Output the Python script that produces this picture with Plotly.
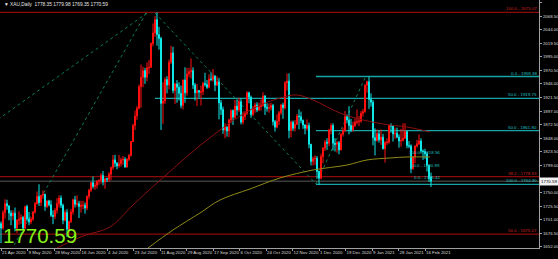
import plotly.graph_objects as go

# ---------------- data ----------------
opens = [1694,1686,1714,1730,1726,1713,1708,1713,1686,1700,1702,1705,1686,1725,1702,1697,1702,1715,1730,1743,
         1732,1745,1747,1725,1735,1728,1709,1707,1718,1730,1740,1727,1700,1714,1684,1698,1715,1737,1729,1730,
         1725,1727,1727,1722,1743,1754,1768,1761,1763,1771,1772,1781,1769,1775,1774,1783,1795,1809,1803,1798,
         1802,1809,1810,1796,1810,1817,1842,1871,1888,1902,1941,1958,1970,1958,1975,1976,2019,2038,2062,2035,
         2028,1911,1915,1954,1944,1985,2002,1934,1946,1940,1929,1907,1953,1930,1964,1968,1970,1944,1930,1934,
         1931,1932,1947,1945,1940,1955,1954,1960,1944,1950,1912,1900,1863,1868,1861,1881,1898,1886,1906,1899,
         1914,1877,1887,1893,1930,1922,1891,1901,1908,1899,1905,1907,1924,1904,1902,1903,1907,1878,1868,1879,
         1894,1908,1903,1948,1951,1862,1877,1866,1873,1888,1887,1880,1872,1866,1871,1837,1806,1811,1812,1788,
         1776,1815,1830,1841,1839,1863,1871,1839,1837,1840,1827,1855,1862,1887,1881,1871,1863,1871,1877,1878,
         1879,1893,1896,1944,1950,1918,1913,1849,1844,1856,1845,1850,1829,1840,1841,1871,1870,1856,1857,1850,
         1843,1844,1848,1860,1835,1834,1793,1814,1834,1838,1843,1825,1824,1820,1799,1778.35]
highs = [1698,1718,1738,1737,1727,1718,1718,1723,1702,1716,1711,1708,1726,1728,1715,1706,1716,1733,1752,1765,
         1746,1754,1748,1736,1737,1736,1718,1722,1740,1745,1745,1730,1718,1720,1699,1720,1739,1744,1745,1735,
         1735,1735,1732,1745,1757,1769,1779,1768,1772,1774,1785,1789,1776,1777,1787,1797,1818,1818,1805,1818,
         1813,1816,1814,1812,1820,1843,1874,1898,1906,1945,1981,1977,1975,1985,1989,2021,2055,2069,2075,2049,
         2031,1949,1958,1960,1990,2015,2013,1948,1953,1949,1943,1954,1976,1975,1975,1992,1976,1948,1946,1935,
         1943,1950,1966,1953,1963,1967,1973,1962,1960,1957,1917,1905,1875,1870,1883,1900,1900,1917,1918,1921,
         1920,1896,1897,1933,1932,1925,1906,1912,1913,1912,1918,1931,1926,1911,1911,1912,1910,1881,1891,1897,
         1910,1912,1951,1965,1965,1880,1880,1881,1892,1900,1896,1882,1873,1882,1876,1838,1815,1817,1816,1790,
         1820,1832,1845,1848,1865,1875,1875,1848,1843,1843,1857,1867,1897,1891,1906,1883,1878,1884,1900,1888,
         1897,1901,1945,1952,1959,1929,1917,1866,1864,1863,1864,1856,1843,1848,1872,1875,1871,1867,1867,1855,
         1865,1875,1875,1862,1843,1837,1816,1835,1845,1855,1848,1828,1829,1823,1800,1786]
lows = [1659,1683,1703,1719,1700,1691,1700,1680,1677,1692,1693,1683,1684,1698,1691,1693,1699,1712,1728,1726,
        1726,1739,1717,1722,1725,1706,1693,1702,1712,1723,1722,1693,1698,1670,1676,1695,1710,1723,1725,1704,
        1714,1720,1712,1718,1738,1751,1757,1755,1757,1764,1766,1763,1757,1769,1769,1772,1791,1796,1792,1795,
        1797,1800,1795,1795,1807,1815,1841,1863,1881,1900,1903,1940,1946,1951,1964,1975,2014,2031,2015,2008,
        1863,1874,1910,1929,1936,1982,1929,1910,1912,1916,1902,1900,1912,1925,1958,1956,1937,1916,1906,1921,
        1907,1926,1941,1937,1938,1951,1950,1933,1942,1882,1890,1856,1848,1851,1850,1875,1872,1883,1889,1895,
        1873,1873,1881,1890,1911,1885,1888,1894,1895,1897,1898,1905,1890,1896,1894,1898,1871,1860,1866,1872,
        1890,1883,1900,1934,1848,1850,1861,1860,1872,1864,1875,1865,1855,1862,1830,1799,1799,1800,1775,1764,
        1774,1803,1825,1827,1834,1855,1826,1824,1822,1819,1826,1851,1859,1875,1855,1859,1860,1868,1873,1870,
        1876,1887,1894,1930,1901,1905,1835,1817,1842,1840,1836,1828,1804,1836,1838,1858,1842,1847,1848,1831,
        1833,1842,1847,1830,1830,1785,1791,1803,1831,1836,1821,1809,1811,1788,1769,1760]
closes = [1686,1714,1730,1726,1713,1708,1713,1686,1700,1702,1705,1686,1725,1702,1697,1702,1715,1730,1743,1732,
          1745,1747,1725,1735,1728,1709,1707,1718,1730,1740,1727,1700,1714,1684,1698,1715,1737,1729,1730,1725,
          1727,1727,1722,1743,1754,1768,1761,1763,1771,1772,1781,1769,1775,1774,1783,1795,1809,1803,1798,1802,
          1809,1810,1796,1810,1817,1842,1871,1888,1902,1941,1958,1970,1958,1975,1976,2019,2038,2062,2035,2028,
          1911,1915,1954,1944,1985,2002,1934,1946,1940,1929,1907,1953,1930,1964,1968,1970,1944,1930,1934,1931,
          1932,1947,1945,1940,1955,1954,1960,1944,1950,1912,1900,1863,1868,1861,1881,1898,1886,1906,1899,1914,
          1877,1887,1893,1930,1922,1891,1901,1908,1899,1905,1907,1924,1904,1902,1903,1907,1878,1868,1879,1894,
          1908,1903,1948,1951,1862,1877,1866,1873,1888,1887,1880,1872,1866,1871,1837,1806,1811,1812,1788,1776,
          1815,1830,1841,1839,1863,1871,1839,1837,1840,1827,1855,1862,1887,1881,1871,1863,1871,1877,1878,1879,
          1893,1896,1944,1950,1918,1913,1849,1844,1856,1845,1850,1829,1840,1841,1871,1870,1856,1857,1850,1843,
          1844,1848,1860,1835,1834,1793,1814,1834,1838,1843,1825,1824,1820,1799,1775,1770.59]
bars = list(range(len(closes)))

# moving averages (bar index, value)
ma_red_bar = [28, 41, 54.5, 66, 78, 103, 124.5, 139.5, 148, 156, 169.5, 181, 194.5, 203, 214.5]
ma_red_val = [1650.0, 1671.6, 1687.9, 1727.6, 1767.3, 1844.8, 1898.9, 1920.6, 1926.0, 1917.0,
              1893.5, 1880.9, 1871.9, 1868.3, 1859.3]
ma_olive_bar = [73.5, 86, 99.5, 109.5, 124.5, 139.5, 156, 173, 183, 194.5, 203, 214.5]
ma_olive_val = [1650.0, 1682.5, 1713.2, 1736.6, 1756.5, 1776.3, 1790.7, 1799.7, 1808.8, 1812.4,
                1814.2, 1814.2]

# fibonacci levels
fib_values = [2075.07, 1959.38, 1919.75, 1861.80, 1778.93, 1764.90, 1675.07]
fib_labels = ["100.0 - 2075.07", "0.0 - 1959.38", "50.0 - 1919.75", "50.0 - 1861.80",
              "38.2 - 1778.93", "100.0 - 1764.90", "50.0 - 1675.07"]
fib_start = [-0.5, 157.5, 77, 157.5, -0.5, 157.5, -0.5]
fib_kind = ["red", "cyan", "cyan", "cyan", "red", "cyan", "red"]

small_fib_values = [1816.0, 1792.5, 1770.5]
small_fib_labels = ["100.0 - 1818.56", "50.0 - 1790.99", "0.0 - 1765.42"]

# dotted trend lines (bar, price) pairs
trend_x0 = [73, 72.5, 77, 157.5]
trend_y0 = [2073.9, 2073.9, 2073.9, 1765.5]
trend_x1 = [-0.5, 6, 157.5, 182]
trend_y1 = [1884.5, 1651.8, 1765.5, 1956.7]

last_price = 1770.59
title_text = "▼ XAU,Daily  1778.35 1779.98 1769.35 1770.59"

tick_bars = [0, 13.25, 26.5, 39.75, 53, 66.25, 79.5, 92.75, 106, 119.25, 132.5, 145.75,
             159, 172.25, 185.5, 198.75, 212]
tick_labels = ["21 Apr 2020", "9 May 2020", "28 May 2020", "16 Jun 2020", "4 Jul 2020",
               "23 Jul 2020", "11 Aug 2020", "29 Aug 2020", "17 Sep 2020", "6 Oct 2020",
               "24 Oct 2020", "12 Nov 2020", "1 Dec 2020", "19 Dec 2020", "9 Jan 2021",
               "28 Jan 2021", "16 Feb 2021"]
ytick_vals = [2093.0, 2068.5, 2044.0, 2019.5, 1995.0, 1970.5, 1946.0, 1921.5, 1897.0, 1872.5,
              1848.0, 1823.5, 1799.0, 1774.5, 1750.0, 1725.5, 1701.0, 1676.5, 1652.0]
# the 1774.50 label is hidden behind the current-price box in the reference
ytick_text = ["" if v == 1774.5 else "%.2f" % v for v in ytick_vals]

# ---------------- styles ----------------
UP = "#ff1010"
DOWN = "#10e8e8"
RED_LINE = "#8c0a0a"
CYAN_LINE = "#18a4a4"
RED_TXT = "#d02020"
CYAN_TXT = "#22c0c0"
TREND = "#0d7a55"
XMAX = 269
SMALL = 4.4

fig = go.Figure()

fig.add_trace(go.Scatter(x=ma_olive_bar, y=ma_olive_val, mode="lines",
                         line=dict(color="#8f8a18", width=1, shape="spline"), hoverinfo="skip"))
fig.add_trace(go.Scatter(x=ma_red_bar, y=ma_red_val, mode="lines",
                         line=dict(color="#8a1010", width=1, shape="spline"), hoverinfo="skip"))

fig.add_trace(go.Candlestick(
    x=bars, open=opens, high=highs, low=lows, close=closes,
    increasing=dict(line=dict(color=UP, width=1), fillcolor=UP),
    decreasing=dict(line=dict(color=DOWN, width=1), fillcolor=DOWN),
    whiskerwidth=0,
))

shapes = []
annotations = []
for v, lab, s, k in zip(fib_values, fib_labels, fib_start, fib_kind):
    col = RED_LINE if k == "red" else CYAN_LINE
    tcol = RED_TXT if k == "red" else CYAN_TXT
    shapes.append(dict(type="line", xref="x", yref="y", x0=s, x1=XMAX, y0=v, y1=v,
                       line=dict(color=col, width=1.3), layer="below"))
    annotations.append(dict(x=XMAX - 0.5, y=v, xref="x", yref="y", text=lab, showarrow=False,
                            xanchor="right", yanchor="bottom", borderpad=0,
                            font=dict(size=SMALL, color=tcol, family="Liberation Sans")))

# current price line
shapes.append(dict(type="line", xref="x", yref="y", x0=-0.5, x1=XMAX, y0=last_price, y1=last_price,
                   line=dict(color="#5a5a5a", width=1), layer="below"))

for a, b, c, d in zip(trend_x0, trend_y0, trend_x1, trend_y1):
    shapes.append(dict(type="line", xref="x", yref="y", x0=a, y0=b, x1=c, y1=d,
                       line=dict(color=TREND, width=1, dash="dot"), layer="below"))

for v, lab in zip(small_fib_values, small_fib_labels):
    annotations.append(dict(x=220, y=v, xref="x", yref="y", text=lab, showarrow=False,
                            xanchor="right", yanchor="bottom", borderpad=0,
                            font=dict(size=SMALL, color=CYAN_TXT, family="Liberation Sans")))

annotations.append(dict(x=0.004, y=1.0, xref="paper", yref="paper", text=title_text, showarrow=False,
                        xanchor="left", yanchor="top",
                        font=dict(size=4.8, color="#e8e8e8", family="Liberation Sans")))
annotations.append(dict(x=0.004, y=0.0, xref="paper", yref="paper", text="%.2f" % last_price,
                        showarrow=False, xanchor="left", yanchor="bottom", borderpad=0,
                        font=dict(size=20.5, color="#84f21a", family="Liberation Sans")))
annotations.append(dict(x=1.0, y=last_price, xref="paper", yref="y", text="%.2f" % last_price,
                        showarrow=False, xanchor="left", yanchor="middle", bgcolor="#f0f0f0",
                        borderpad=1, font=dict(size=SMALL, color="#000000", family="Liberation Sans")))

fig.update_layout(
    width=558, height=259,
    margin=dict(l=0, r=19, t=0, b=11, autoexpand=False),
    paper_bgcolor="#000000", plot_bgcolor="#000000",
    showlegend=False,
    shapes=shapes, annotations=annotations,
    xaxis=dict(range=[-0.5, XMAX], rangeslider=dict(visible=False), showgrid=False, zeroline=False,
               tickmode="array", tickvals=tick_bars, ticktext=tick_labels, tickangle=0,
               automargin=False,
               ticklabelposition="outside right", ticks="outside", ticklen=2, tickcolor="#a0a0a0",
               tickfont=dict(size=SMALL, color="#dcdcdc", family="Liberation Sans"),
               showline=True, linecolor="#a0a0a0", linewidth=1),
    yaxis=dict(side="right", range=[1650.0, 2097.4], showgrid=False, zeroline=False,
               tickmode="array", tickvals=ytick_vals, ticktext=ytick_text, automargin=False,
               ticks="outside", ticklen=2, tickcolor="#a0a0a0",
               tickfont=dict(size=SMALL, color="#dcdcdc", family="Liberation Sans"),
               showline=True, linecolor="#a0a0a0", linewidth=1),
)

fig.write_html("out.html", config={"displayModeBar": False})
